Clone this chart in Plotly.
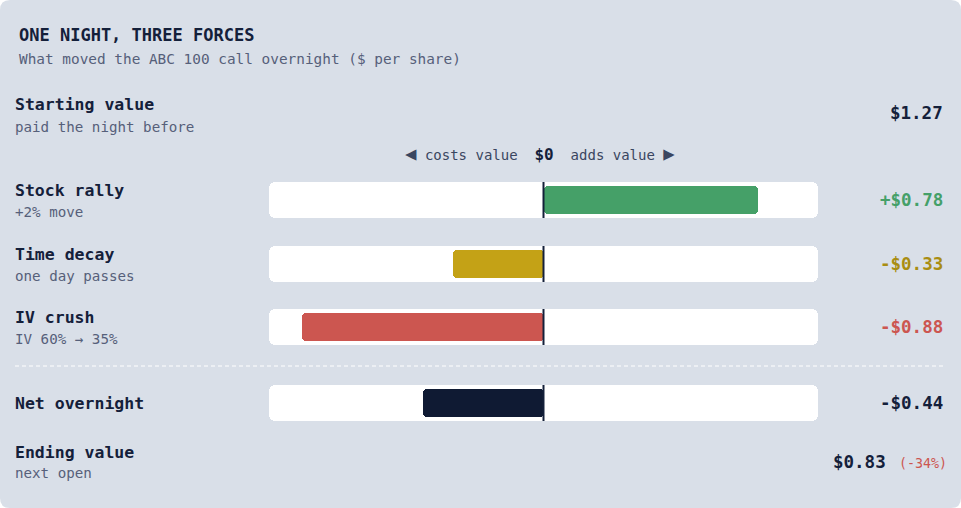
import plotly.graph_objects as go

# ---------------- data ----------------
title = "ONE NIGHT, THREE FORCES"
subtitle = "What moved the ABC 100 call overnight ($ per share)"
categories = ["Stock rally", "Time decay", "IV crush"]
sublabels = ["+2% move", "one day passes", "IV 60% → 35%"]
impacts = [0.78, -0.33, -0.88]
start_label, start_sub, start_value = "Starting value", "paid the night before", 1.27
net_label, net_value = "Net overnight", -0.44
end_label, end_sub, end_value, end_pct = "Ending value", "next open", 0.83, -34
axis_range = [-1.0, 1.0]

# ---------------- layout / style ----------------
W, H = 961, 508
FONT = "DejaVu Sans Mono"
INK = "#14203a"
MUTED = "#56607a"
PANEL = "#d9dfe8"
bar_colors = ["#45a068", "#c4a216", "#cc5650"]
text_colors = ["#45a068", "#a98d12", "#cc5650"]
NET_COLOR = "#0f1a33"
row_y = [200, 264, 327]       # pixel centres of impact rows
net_y = 403
track_w, bar_w = 36, 28
X_LEFT, X_RIGHT = 269, 818    # track extent in pixels
LABEL_X, VALUE_X = 15, 943

fig = go.Figure()

all_y = row_y + [net_y]
all_vals = impacts + [net_value]
all_cols = bar_colors + [NET_COLOR]

# white tracks
fig.add_trace(go.Bar(
    orientation="h", y=all_y, x=[axis_range[1] - axis_range[0]] * len(all_y),
    base=[axis_range[0]] * len(all_y), width=[track_w] * len(all_y),
    marker=dict(color="white", cornerradius=6, line=dict(width=0)),
    hoverinfo="skip", showlegend=False))

# value bars
fig.add_trace(go.Bar(
    orientation="h", y=all_y, x=[abs(v) for v in all_vals],
    base=[min(v, 0) for v in all_vals], width=[bar_w] * len(all_y),
    marker=dict(color=all_cols, cornerradius=4, line=dict(width=0)),
    hoverinfo="skip", showlegend=False))

shapes = []
# rounded panel background
r = 10
rx, ry = r / W, r / H
path = (f"M {rx},0 L {1-rx},0 Q 1,0 1,{ry} L 1,{1-ry} Q 1,1 {1-rx},1 "
        f"L {rx},1 Q 0,1 0,{1-ry} L 0,{ry} Q 0,0 {rx},0 Z")
shapes.append(dict(type="path", xref="paper", yref="paper", path=path,
                   fillcolor=PANEL, line=dict(width=0), layer="below"))
# zero lines
for y in all_y:
    shapes.append(dict(type="line", xref="x", yref="y", x0=0, x1=0,
                       y0=y - track_w / 2, y1=y + track_w / 2,
                       line=dict(color=INK, width=2), layer="above"))
# dashed separator
shapes.append(dict(type="line", xref="paper", yref="y", x0=15 / W, x1=943 / W,
                   y0=366, y1=366, line=dict(color="white", width=1, dash="4px,3px")))

ann = []


def text(x, y, s, size, color=INK, bold=False, anchor="left"):
    ann.append(dict(xref="paper", yref="y", x=x / W, y=y, text=s, showarrow=False,
                    xanchor=anchor, yanchor="middle", borderpad=0, borderwidth=0,
                    font=dict(family=FONT, size=size, color=color,
                              weight="bold" if bold else "normal")))


def money(v, sign=False):
    s = f"${abs(v):.2f}"
    if v < 0:
        return "-" + s
    return ("+" + s) if sign else s


text(19, 35, title, 17, INK, True)
text(19, 59, subtitle, 14.4, MUTED)

text(LABEL_X, 104, start_label, 16.5, INK, True)
text(LABEL_X, 127, start_sub, 14.2, MUTED)
text(VALUE_X, 113, money(start_value), 17.5, INK, True, "right")

ann.append(dict(xref="paper", yref="y", x=540 / W, y=153,
                text=("<span style='font-size:19px'>◀</span> costs value  "
                      "<b><span style='font-size:16px;color:%s'>$0</span></b>"
                      "  adds value <span style='font-size:19px'>▶</span>" % INK),
                showarrow=False, xanchor="center", yanchor="middle",
                borderpad=0, borderwidth=0,
                font=dict(family=FONT, size=14, color="#3a4660")))

for y, c, s, v, tc in zip(row_y, categories, sublabels, impacts, text_colors):
    text(LABEL_X, y - 10, c, 16.5, INK, True)
    text(LABEL_X, y + 12, s, 14.2, MUTED)
    text(VALUE_X, y, money(v, True), 17.5, tc, True, "right")

text(LABEL_X, net_y, net_label, 16.5, INK, True)
text(VALUE_X, net_y, money(net_value), 17.5, INK, True, "right")

text(LABEL_X, 452, end_label, 16.5, INK, True)
text(LABEL_X, 473, end_sub, 14.2, MUTED)
text(886, 462, money(end_value), 17.5, INK, True, "right")
text(899, 463, f"({end_pct}%)", 13.3, "#cc5650")

fig.update_layout(
    width=W, height=H, autosize=False,
    margin=dict(l=0, r=0, t=0, b=0, pad=0),
    paper_bgcolor="white", plot_bgcolor="rgba(0,0,0,0)",
    barmode="overlay", bargap=0,
    showlegend=False,
    xaxis=dict(domain=[X_LEFT / W, X_RIGHT / W], range=axis_range,
               visible=False, fixedrange=True),
    yaxis=dict(range=[H, 0], domain=[0, 1], visible=False, fixedrange=True),
    shapes=shapes, annotations=ann,
)

fig.write_html("out.html", config={"displayModeBar": False})
